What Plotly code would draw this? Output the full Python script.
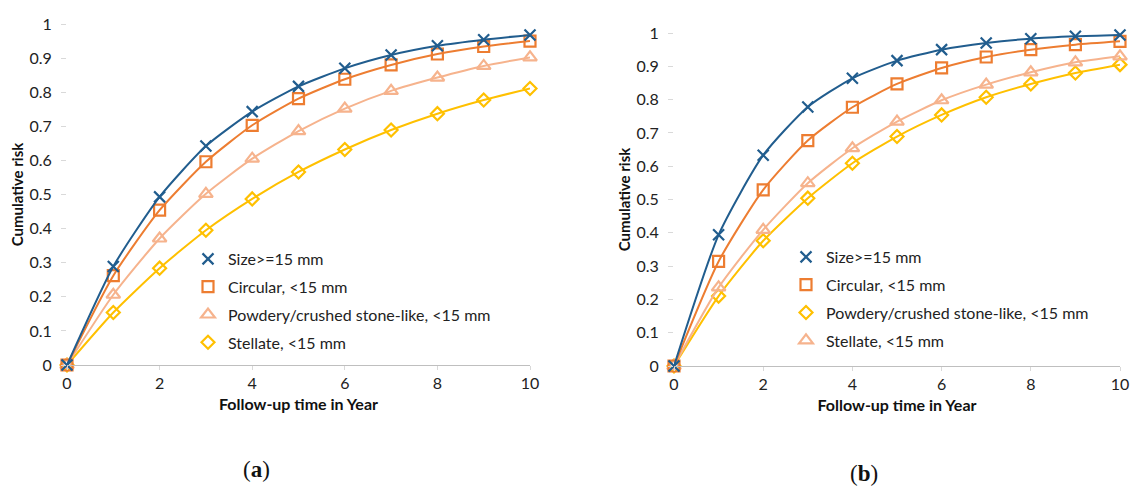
import plotly.graph_objects as go

years = [0, 1, 2, 3, 4, 5, 6, 7, 8, 9, 10]

# Panel (a)
a_size = [0, 0.289, 0.493, 0.642, 0.743, 0.817, 0.870, 0.909, 0.936, 0.954, 0.968]
a_circular = [0, 0.262, 0.454, 0.596, 0.703, 0.781, 0.838, 0.880, 0.912, 0.934, 0.950]
a_powdery = [0, 0.206, 0.371, 0.502, 0.605, 0.686, 0.752, 0.804, 0.843, 0.877, 0.902]
a_stellate = [0, 0.154, 0.284, 0.395, 0.487, 0.566, 0.632, 0.689, 0.737, 0.777, 0.811]

# Panel (b)
b_size = [0, 0.394, 0.633, 0.778, 0.864, 0.917, 0.950, 0.970, 0.983, 0.990, 0.994]
b_circular = [0, 0.314, 0.529, 0.677, 0.777, 0.847, 0.895, 0.928, 0.950, 0.965, 0.975]
b_powdery = [0, 0.210, 0.376, 0.504, 0.609, 0.689, 0.754, 0.807, 0.847, 0.880, 0.905]
b_stellate = [0, 0.236, 0.409, 0.549, 0.654, 0.734, 0.798, 0.845, 0.882, 0.912, 0.930]

names = ["Size>=15 mm", "Circular, <15 mm", "Powdery/crushed stone-like, <15 mm", "Stellate, <15 mm"]
y_ticks = [0, 0.1, 0.2, 0.3, 0.4, 0.5, 0.6, 0.7, 0.8, 0.9, 1]
y_ticktext = ["0", "0.1", "0.2", "0.3", "0.4", "0.5", "0.6", "0.7", "0.8", "0.9", "1"]
x_ticks = [0, 2, 4, 6, 8, 10]

BLUE = "#215D8E"
ORANGE = "#ED7D31"
SALMON = "#F6B38D"
GOLD = "#FFC000"

FONT = "Lato, Open Sans, sans-serif"

STYLE = {
    "size": (BLUE, "x-thin-open", 11),
    "circ": (ORANGE, "square-open", 11),
    "tri": (SALMON, "triangle-up-open", 12),
    "dia": (GOLD, "diamond-open", 10),
}

fig = go.Figure()

def add_line(y, name, style, xa, ya):
    color, symbol, msize = STYLE[style]
    fig.add_trace(go.Scatter(
        x=years, y=y, mode="lines+markers", name=name,
        line=dict(color=color, width=2, shape="spline", smoothing=0.6),
        marker=dict(symbol=symbol, size=msize, color=color,
                    line=dict(color=color, width=2.2)),
        xaxis=xa, yaxis=ya, showlegend=False, cliponaxis=False,
    ))

def add_legend(name, style, xa, ya, legend, group):
    color, symbol, msize = STYLE[style]
    fig.add_trace(go.Scatter(
        x=[None], y=[None], mode="markers", name=name,
        marker=dict(symbol=symbol, size=msize, color=color,
                    line=dict(color=color, width=2.2)),
        xaxis=xa, yaxis=ya, showlegend=True, legend=legend, legendgroup=group,
    ))

# panel a lines (lower series drawn first)
add_line(a_stellate, names[3], "dia", "x", "y")
add_line(a_powdery, names[2], "tri", "x", "y")
add_line(a_circular, names[1], "circ", "x", "y")
add_line(a_size, names[0], "size", "x", "y")
# panel a legend
add_legend(names[0], "size", "x", "y", "legend", "a1")
add_legend(names[1], "circ", "x", "y", "legend", "a2")
add_legend(names[2], "tri", "x", "y", "legend", "a3")
add_legend(names[3], "dia", "x", "y", "legend", "a4")

# panel b lines
add_line(b_powdery, names[2], "dia", "x2", "y2")
add_line(b_stellate, names[3], "tri", "x2", "y2")
add_line(b_circular, names[1], "circ", "x2", "y2")
add_line(b_size, names[0], "size", "x2", "y2")
# panel b legend
add_legend(names[0], "size", "x2", "y2", "legend2", "b1")
add_legend(names[1], "circ", "x2", "y2", "legend2", "b2")
add_legend(names[2], "dia", "x2", "y2", "legend2", "b3")
add_legend(names[3], "tri", "x2", "y2", "legend2", "b4")

xaxis_common = dict(
    range=[0, 10], tickvals=x_ticks, showgrid=False, zeroline=False,
    showline=True, linecolor="#BFBFBF", linewidth=1, automargin=False,
    ticks="outside", ticklen=4, tickcolor="#D9D9D9",
    tickfont=dict(family=FONT, size=16, color="#222"),
    title=dict(text="<b>Follow-up time in Year</b>", font=dict(family=FONT, size=16, color="#111"), standoff=7),
)
yaxis_common = dict(
    range=[0, 1], tickvals=y_ticks, ticktext=y_ticktext, showgrid=False, zeroline=False,
    showline=False, ticks="outside", ticklen=5, tickcolor="#D9D9D9", automargin=False,
    tickfont=dict(family=FONT, size=16, color="#222"), ticklabelstandoff=6,
    title=dict(text="<b>Cumulative risk</b>", font=dict(family=FONT, size=15, color="#111"), standoff=2),
)

legend_common = dict(
    xanchor="left", yanchor="top", bgcolor="rgba(0,0,0,0)",
    font=dict(family=FONT, size=16, color="#222"),
    traceorder="grouped", tracegroupgap=4, itemwidth=30,
)

fig.update_layout(
    width=1131, height=497,
    margin=dict(l=0, r=0, t=0, b=0),
    paper_bgcolor="white", plot_bgcolor="white",
    xaxis=dict(domain=[67/1131, 530/1131], anchor="y", **xaxis_common),
    yaxis=dict(domain=[1-365/497, 1-24/497], anchor="x", **yaxis_common),
    xaxis2=dict(domain=[674/1131, 1120/1131], anchor="y2", **xaxis_common),
    yaxis2=dict(domain=[1-366/497, 1-33/497], anchor="x2", **yaxis_common),
    legend=dict(x=188/1131, y=1-242/497, **legend_common),
    legend2=dict(x=786/1131, y=1-240/497, **legend_common),
    showlegend=True,
)

fig.add_annotation(text="(<b>a</b>)", x=241/1131, y=1-484/497, xref="paper", yref="paper",
                   showarrow=False, font=dict(family="Liberation Serif, DejaVu Serif, serif", size=23, color="#111"))
fig.add_annotation(text="(<b>b</b>)", x=880/1131, y=1-488/497, xref="paper", yref="paper",
                   showarrow=False, font=dict(family="Liberation Serif, DejaVu Serif, serif", size=23, color="#111"))

fig.write_html("out.html", config={"displayModeBar": False},
               post_script="document.body.style.margin='0';document.body.style.padding='0';")
